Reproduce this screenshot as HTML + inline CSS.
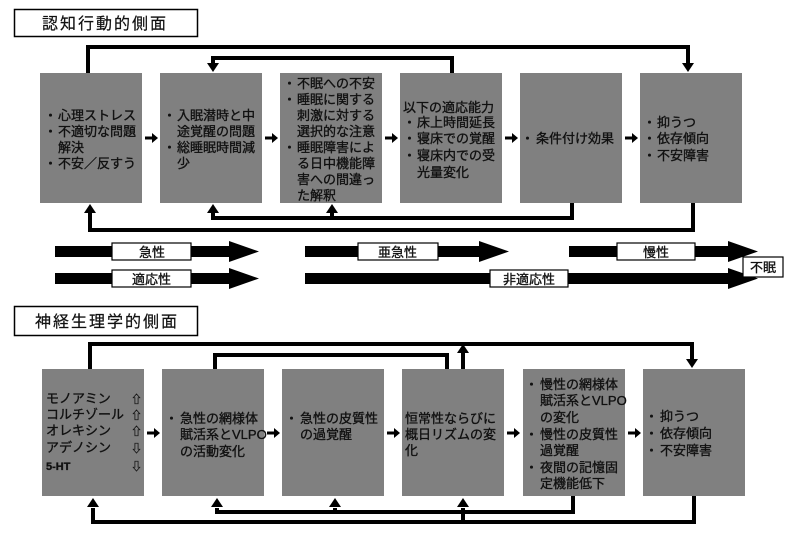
<!DOCTYPE html>
<html><head><meta charset="utf-8"><style>
html,body{margin:0;padding:0;background:#fff;}
svg{display:block;}
text{font-family:"Liberation Sans","Noto Sans CJK JP",sans-serif;font-size:13px;fill:#111;stroke:#111;stroke-width:0.35;}
.t{font-size:16px;letter-spacing:2px;stroke-width:0.2;}
.l{font-size:13px;}
</style></head><body>
<svg width="794" height="534" viewBox="0 0 794 534" xmlns="http://www.w3.org/2000/svg">
<!-- ===== TOP ===== -->
<rect x="14.5" y="9.5" width="183" height="27" fill="#fff" stroke="#000" stroke-width="1.5"/>
<text class="t" x="42" y="29">認知行動的側面</text>
<g fill="#808080">
<rect x="40" y="73" width="102" height="130"/>
<rect x="160" y="73" width="102" height="130"/>
<rect x="280" y="73" width="102" height="130"/>
<rect x="400" y="73" width="102" height="130"/>
<rect x="520" y="73" width="102" height="130"/>
<rect x="640" y="73" width="102" height="130"/>
</g>
<g fill="none" stroke="#000" stroke-width="4">
<polyline points="88,73 88,47 688,47 688,64"/>
<polyline points="452,73 452,58 213,58 213,64"/>
<polyline points="572,203 572,218 213,218 213,212"/>
<line x1="332" y1="218" x2="332" y2="212"/>
<polyline points="693,203 693,230 90,230 90,212"/>
</g>
<g fill="#000">
<polygon points="682,63 694,63 688,72"/>
<polygon points="207,63 219,63 213,72"/>
<polygon points="207,213 219,213 213,204"/>
<polygon points="326,213 338,213 332,204"/>
<polygon points="84,213 96,213 90,204"/>
</g>
<g stroke="#000" stroke-width="3" fill="none">
<line x1="145" y1="138" x2="153" y2="138"/><line x1="265" y1="138" x2="273" y2="138"/>
<line x1="385" y1="138" x2="393" y2="138"/><line x1="505" y1="138" x2="513" y2="138"/>
<line x1="625" y1="138" x2="633" y2="138"/>
</g>
<g fill="#000">
<polygon points="152,133 158,138 152,143"/><polygon points="272,133 278,138 272,143"/>
<polygon points="392,133 398,138 392,143"/><polygon points="512,133 518,138 512,143"/>
<polygon points="632,133 638,138 632,143"/>
</g>
<text x="44" y="120">・</text><text x="58" y="120">心理ストレス</text>
<text x="44" y="136">・</text><text x="58" y="136">不適切な問題</text>
<text x="58" y="152">解決</text>
<text x="44" y="168">・</text><text x="58" y="168">不安／反すう</text>

<text x="163" y="120">・</text><text x="177" y="120">入眠潜時と中</text>
<text x="177" y="136">途覚醒の問題</text>
<text x="163" y="152">・</text><text x="177" y="152">総睡眠時間減</text>
<text x="177" y="168">少</text>

<text x="283" y="88">・</text><text x="297" y="88">不眠への不安</text>
<text x="283" y="104">・</text><text x="297" y="104">睡眠に関する</text>
<text x="297" y="120">刺激に対する</text>
<text x="297" y="136">選択的な注意</text>
<text x="283" y="152">・</text><text x="297" y="152">睡眠障害によ</text>
<text x="297" y="168">る日中機能障</text>
<text x="297" y="184">害への間違っ</text>
<text x="297" y="200">た解釈</text>

<text x="403" y="112">以下の適応能力</text>
<text x="403" y="127">・</text><text x="417" y="127">床上時間延長</text>
<text x="403" y="143">・</text><text x="417" y="143">寝床での覚醒</text>
<text x="403" y="160">・</text><text x="417" y="160">寝床内での受</text>
<text x="417" y="177">光量変化</text>

<text x="521" y="143">・</text><text x="536" y="143">条件付け効果</text>

<text x="643" y="127">・</text><text x="657" y="127">抑うつ</text>
<text x="643" y="143">・</text><text x="657" y="143">依存傾向</text>
<text x="643" y="160">・</text><text x="657" y="160">不安障害</text>

<g fill="#000">
<rect x="55" y="246" width="180" height="11"/><polygon points="229,241 259,251.5 229,262"/>
<rect x="305" y="246" width="180" height="11"/><polygon points="479,241 509,251.5 479,262"/>
<rect x="569" y="246" width="165" height="11"/><polygon points="728,241 758,251.5 728,262"/>
<rect x="55" y="273" width="180" height="11"/><polygon points="229,268 259,278.5 229,289"/>
<rect x="305" y="273" width="430" height="11"/><polygon points="728,268 758,278.5 728,289"/>
</g>
<g fill="#fff" stroke="#000" stroke-width="1.2">
<rect x="112" y="243" width="79" height="17"/>
<rect x="358" y="243" width="80" height="17"/>
<rect x="617" y="243" width="78" height="17"/>
<rect x="112" y="270" width="79" height="17"/>
<rect x="490" y="270" width="78" height="17"/>
<rect x="743" y="257" width="40" height="20"/>
</g>
<text class="l" x="139" y="257">急性</text>
<text class="l" x="378" y="257">亜急性</text>
<text class="l" x="643" y="257">慢性</text>
<text class="l" x="132" y="284">適応性</text>
<text class="l" x="503" y="284">非適応性</text>
<text class="l" x="750" y="272">不眠</text>

<!-- ===== BOTTOM ===== -->
<rect x="14.5" y="306.5" width="183" height="29" fill="#fff" stroke="#000" stroke-width="1.5"/>
<text class="t" x="35" y="327">神経生理学的側面</text>
<g fill="#808080">
<rect x="42" y="369" width="102" height="127"/>
<rect x="162" y="369" width="102" height="127"/>
<rect x="282" y="369" width="102" height="127"/>
<rect x="402" y="369" width="102" height="127"/>
<rect x="523" y="369" width="102" height="127"/>
<rect x="643" y="369" width="102" height="127"/>
</g>
<g fill="none" stroke="#000" stroke-width="4">
<polyline points="90,369 90,344 692,344 692,360"/>
<polyline points="215,369 215,355 447,355 447,369"/>
<line x1="463" y1="369" x2="463" y2="352"/>
<polyline points="573,496 573,512 217,512 217,508"/>
<line x1="335" y1="512" x2="335" y2="508"/>
<polyline points="694,496 694,522 93,522 93,508"/>
<line x1="463" y1="522" x2="463" y2="508"/>
</g>
<g fill="#000">
<polygon points="686,359 698,359 692,368"/>
<polygon points="457,353 469,353 463,344"/>
<polygon points="211,507 223,507 217,498"/>
<polygon points="329,507 341,507 335,498"/>
<polygon points="87,507 99,507 93,498"/>
<polygon points="457,507 469,507 463,498"/>
</g>
<g stroke="#000" stroke-width="3" fill="none">
<line x1="147" y1="433" x2="155" y2="433"/><line x1="267" y1="433" x2="275" y2="433"/>
<line x1="387" y1="433" x2="395" y2="433"/><line x1="507" y1="433" x2="515" y2="433"/>
<line x1="628" y1="433" x2="636" y2="433"/>
</g>
<g fill="#000">
<polygon points="154,428 160,433 154,438"/><polygon points="274,428 280,433 274,438"/>
<polygon points="394,428 400,433 394,438"/><polygon points="514,428 520,433 514,438"/>
<polygon points="635,428 641,433 635,438"/>
</g>
<text x="46" y="403">モノアミン</text><text x="131" y="403" style="font-size:11px">⇧</text>
<text x="46" y="419">コルチゾール</text><text x="131" y="419" style="font-size:11px">⇧</text>
<text x="46" y="435">オレキシン</text><text x="131" y="435" style="font-size:11px">⇧</text>
<text x="46" y="452">アデノシン</text><text x="131" y="452" style="font-size:11px">⇩</text>
<text x="46" y="470" style="font-size:11px;font-weight:bold">5-HT</text><text x="131" y="470" style="font-size:11px">⇩</text>

<text x="165" y="423">・</text><text x="180" y="423">急性の網様体</text>
<text x="180" y="439">賦活系とVLPO</text>
<text x="180" y="456">の活動変化</text>

<text x="285" y="423">・</text><text x="300" y="423">急性の皮質性</text>
<text x="300" y="439">の過覚醒</text>

<text x="405" y="423">恒常性ならびに</text>
<text x="405" y="439">概日リズムの変</text>
<text x="405" y="455">化</text>

<text x="525" y="389">・</text><text x="540" y="389">慢性の網様体</text>
<text x="540" y="405">賦活系とVLPO</text>
<text x="540" y="422">の変化</text>
<text x="525" y="439">・</text><text x="540" y="439">慢性の皮質性</text>
<text x="540" y="455">過覚醒</text>
<text x="525" y="472">・</text><text x="540" y="472">夜間の記憶固</text>
<text x="540" y="488">定機能低下</text>

<text x="645" y="421">・</text><text x="660" y="421">抑うつ</text>
<text x="645" y="438">・</text><text x="660" y="438">依存傾向</text>
<text x="645" y="455">・</text><text x="660" y="455">不安障害</text>
</svg>
</body></html>
